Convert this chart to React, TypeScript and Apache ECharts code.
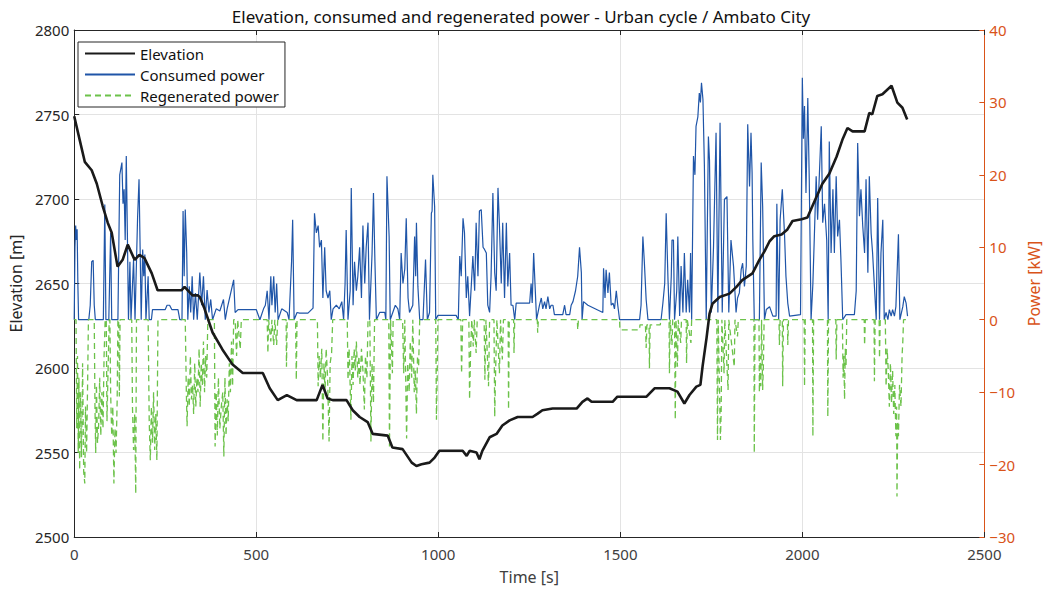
import React, { useEffect, useRef } from "react";
import * as echarts from "echarts";

const titleText = "Elevation, consumed and regenerated power - Urban cycle / Ambato City";

const elevation: [number, number][] = [
  [0, 2749], [15, 2735], [29, 2722], [48, 2717], [62, 2709], [78, 2696], [92, 2686], [103, 2680], [119, 2660], [133, 2664],
  [147, 2673], [166, 2664], [179, 2667], [193, 2665], [213, 2656], [229, 2646], [295, 2646], [303, 2648], [325, 2643], [339, 2643],
  [345, 2642], [358, 2635], [380, 2621], [407, 2611], [435, 2602], [463, 2597], [518, 2597], [537, 2588], [559, 2581], [584, 2584],
  [611, 2581], [647, 2581], [666, 2581], [682, 2590], [696, 2582], [710, 2581], [748, 2581], [765, 2575], [784, 2571], [806, 2568],
  [820, 2561], [861, 2560], [874, 2553], [902, 2552], [927, 2544], [940, 2542], [954, 2543], [976, 2544], [990, 2547], [1003, 2551],
  [1067, 2551], [1078, 2548], [1086, 2551], [1105, 2550], [1113, 2546], [1121, 2551], [1141, 2559], [1160, 2561], [1176, 2566], [1196, 2569],
  [1218, 2571], [1259, 2571], [1273, 2573], [1286, 2575], [1314, 2576], [1380, 2576], [1396, 2580], [1410, 2582], [1421, 2580], [1479, 2580],
  [1492, 2583], [1572, 2583], [1594, 2588], [1635, 2588], [1657, 2586], [1676, 2579], [1690, 2584], [1709, 2589], [1720, 2590], [1726, 2601],
  [1737, 2618], [1745, 2632], [1753, 2638], [1773, 2642], [1800, 2644], [1819, 2648], [1835, 2652], [1863, 2656], [1882, 2664], [1896, 2669],
  [1910, 2675], [1923, 2678], [1943, 2679], [1959, 2682], [1973, 2687], [1998, 2688], [2014, 2689], [2028, 2696], [2055, 2709], [2074, 2715],
  [2094, 2725], [2110, 2735], [2124, 2742], [2138, 2740], [2171, 2740], [2184, 2751], [2192, 2750], [2206, 2761], [2220, 2762], [2245, 2767],
  [2261, 2757], [2275, 2754], [2288, 2747],
];

const consumedPower: [number, number][] = [
  [0, 0], [2, 10], [4, 13], [6, 11], [8, 12.5], [10, 5], [12, 0], [40, 0], [44, 2], [48, 8], [52, 8.2], [55, 2], [58, 0], [80, 0],
  [84, 15.9], [87, 0], [95, 0], [100, 12], [103, 0], [120, 0], [125, 20], [131, 21.7], [134, 16], [137, 18], [140, 11], [143, 22.6],
  [146, 12], [149, 0], [153, 8], [156, 0], [163, 8.3], [167, 0], [174, 14], [178, 19.4], [181, 10], [184, 0], [188, 9.7], [191, 6],
  [194, 9], [197, 0], [203, 6], [206, 0], [212, 0], [215, 1.4], [250, 1.4], [255, 2], [262, 2], [268, 1.4], [285, 1.4], [290, 0],
  [296, 0], [299, 15], [302, 6], [305, 15.2], [309, 9.2], [312, 0], [316, 4.6], [320, 1], [324, 6], [328, 0], [333, 3.7], [338, 0],
  [345, 6.5], [350, 2], [355, 6], [360, 0], [365, 4.1], [370, 1], [375, 2.8], [380, 0], [390, 1.5], [400, 1.2], [410, 2.8], [415, 0],
  [420, 1.5], [438, 5.5], [442, 1], [450, 1.4], [500, 1.4], [510, 0], [520, 1.5], [525, 2], [530, 4], [535, 0], [540, 6], [543, 2],
  [548, 6], [552, 1], [556, 5], [560, 0], [570, 1.5], [585, 1], [590, 0], [597, 8], [600, 13.8], [604, 0], [612, 1],
  [619, 0.9], [642, 0.9], [656, 1.6], [660, 14.7], [665, 12], [670, 13], [674, 10], [679, 11], [683, 3], [688, 10], [692, 4], [697, 3],
  [702, 4], [706, 0], [711, 1.5], [720, 2], [728, 1.5], [735, 2.5], [740, 0], [744, 5], [747, 12.4], [752, 0], [758, 4], [761, 18.2],
  [766, 2], [770, 8], [775, 4], [779, 6], [784, 10], [789, 3], [793, 13], [798, 5], [802, 10], [807, 13.4], [811, 0], [818, 9],
  [822, 17.5], [826, 8], [830, 0], [839, 1], [853, 1], [856, 0], [859, 19.8], [865, 11.5], [868, 0], [875, 1], [882, 2], [889, 1.5],
  [894, 0], [898, 9.2], [903, 5], [908, 7], [912, 14], [917, 3], [921, 1], [930, 2], [935, 11.5], [938, 6], [940, 13.4], [944, 4.6],
  [949, 0], [958, 0], [965, 8.3], [970, 0], [976, 1], [981, 14.7], [983, 15], [985, 20], [990, 15.6], [993, 0], [999, 0.6], [1049, 0.6],
  [1055, 0], [1059, 8.8], [1063, 6], [1068, 14], [1072, 12], [1077, 3], [1081, 6], [1086, 0.5], [1091, 5], [1095, 8.8], [1100, 4],
  [1104, 13.4], [1109, 6], [1113, 15], [1118, 15.2], [1123, 10], [1127, 9.7], [1132, 9.2], [1136, 2], [1141, 1], [1145, 6], [1150, 17.5],
  [1155, 6.5], [1159, 4], [1164, 18.2], [1168, 13], [1173, 5], [1177, 13.4], [1182, 3], [1187, 13.4], [1191, 4.6], [1196, 9.2], [1200, 2],
  [1205, 2], [1210, 0], [1214, 2.3], [1251, 2.3], [1255, 5], [1258, 2.3], [1262, 9.2], [1266, 4.6], [1270, 0],
  [1278, 2], [1283, 3], [1287, 1.5], [1292, 2.5], [1296, 1.5], [1301, 3.2], [1306, 1.5], [1310, 2], [1315, 2], [1319, 0.7], [1342, 0.7],
  [1347, 2], [1351, 0.7], [1361, 0.7], [1365, 2], [1370, 2.5], [1377, 4], [1383, 6], [1388, 10], [1393, 6.5], [1395, 0], [1399, 2.5],
  [1411, 2], [1452, 1], [1454, 7.1], [1458, 3], [1461, 6.9], [1466, 3.7], [1470, 6.5], [1475, 2], [1480, 2.3], [1484, 1.5], [1489, 4],
  [1493, 2], [1498, 0], [1553, 0], [1557, 2], [1562, 11.5], [1566, 8], [1571, 2.8], [1576, 0], [1612, 0], [1617, 2.3], [1622, 5],
  [1626, 14.7], [1631, 5.5], [1635, 0], [1640, 6], [1642, 11], [1646, 11], [1649, 0], [1655, 4], [1658, 11.5], [1663, 0.5], [1667, 7.4],
  [1672, 1], [1676, 9.2], [1681, 1], [1685, 5.5], [1690, 1], [1693, 9.2], [1696, 0], [1701, 22.6], [1705, 20], [1708, 26.7], [1713, 28],
  [1717, 31.3], [1720, 30], [1723, 32.7], [1727, 30.4], [1731, 21.2], [1736, 0], [1742, 25.3], [1745, 22], [1750, 1], [1756, 10],
  [1763, 25.8], [1768, 1], [1774, 27.2], [1780, 1], [1786, 16.6], [1793, 17], [1798, 1], [1804, 11], [1811, 7.4], [1818, 1], [1822, 3],
  [1827, 3.7], [1832, 6.9], [1836, 7.8], [1841, 4.6], [1846, 7.4], [1850, 27], [1855, 18.4], [1859, 25.8], [1862, 20.3], [1864, 11],
  [1868, 0], [1882, 0], [1887, 21.7], [1891, 15.7], [1896, 0], [1901, 1.4], [1910, 1.8], [1919, 0.5], [1928, 0.5], [1930, 16], [1935, 0],
  [1939, 13.8], [1945, 18], [1951, 11.9], [1955, 6], [1960, 2.3], [1965, 0.5], [1995, 0.7], [2000, 33.4], [2003, 25], [2006, 29.5],
  [2010, 17.5], [2015, 30.6], [2019, 19.4], [2024, 0], [2029, 5], [2033, 11.5], [2038, 19.8], [2042, 13.8], [2047, 20.3], [2052, 26.7],
  [2056, 13.4], [2061, 16], [2067, 11], [2071, 0], [2074, 24.6], [2079, 9.2], [2084, 18], [2088, 9.2], [2093, 19.8], [2097, 11.5],
  [2102, 13.8], [2106, 8.3], [2111, 0], [2120, 0.7], [2143, 0.7], [2148, 4], [2152, 24.4], [2157, 14.3], [2161, 18], [2166, 12.9],
  [2171, 9.2], [2175, 19.4], [2180, 6.5], [2184, 19.8], [2189, 11.9], [2193, 9.2], [2198, 4.6], [2203, 0], [2207, 16.8], [2212, 0],
  [2216, 9.2], [2221, 13.8], [2225, 0], [2230, 1], [2235, 0], [2239, 1.4], [2244, 0.5], [2248, 1.4], [2253, 0.5], [2257, 1.8],
  [2264, 11.8], [2268, 0], [2276, 1.8], [2280, 3.2], [2285, 2.3], [2289, 0.5],
];

const regeneratedPower: [number, number][] = [
  [0, 0], [5, 0], [7, -15], [9, -5], [11, -18.4], [13, -8], [15, -20.7], [17, -10], [20, -19], [23, -6], [26, -21], [29, -22.6],
  [31, -12], [34, -18.4], [37, -8], [39, 0], [55, 0], [57, -12], [59, -18.4], [61, -9], [64, -17], [67, -14.7], [70, -8], [73, -16],
  [76, -10], [79, -15], [82, -5], [85, 0], [88, 0], [90, -14], [93, -7], [96, 0], [98, 0], [100, -10], [103, -16], [106, -12],
  [109, -22.6], [112, -15], [115, -18.4], [118, -11], [120, 0], [122, 0], [124, -10.6], [126, 0], [158, 0], [160, -12], [163, -18],
  [166, -13], [169, -24], [171, 0], [203, 0], [206, -14], [209, -19.4], [212, -12], [215, -17], [218, -10], [221, -18], [224, -13],
  [227, -19.4], [230, 0], [305, 0], [308, -10], [310, -14.7], [313, -8], [316, -12], [319, -5], [322, -11], [325, -9], [328, -13],
  [331, -6], [334, -12], [337, -8], [340, -10], [343, -4], [346, -12], [349, -6], [352, -9], [355, -3], [358, -10], [361, -5],
  [364, -8], [367, 0], [385, 0], [387, -17.5], [390, -10], [393, -16], [396, -8], [400, -15], [404, -12], [408, -10], [411, -18.9],
  [414, -8], [417, -16], [420, -11], [423, -14], [426, -6], [429, -10], [432, -3], [435, -9.2], [438, 0], [442, 0], [446, -5],
  [449, 0], [456, -4.1], [459, 0], [530, 0], [532, -4.6], [534, 0], [540, -3], [543, 0], [548, -3.5], [551, 0], [556, -3.5],
  [559, 0], [582, 0], [583, -6.5], [585, 0], [608, 0], [610, -8.3], [612, 0],
  [668, 0], [670, -9.2], [673, -5], [676, -8], [680, -4], [683, -16.8], [686, -6], [689, -10], [692, -4], [696, -8], [700, -16.8],
  [703, -6], [707, -4.6], [710, 0], [750, 0], [752, -8.3], [755, -4], [757, -7], [760, -13.8], [763, -5], [766, -9], [769, -4],
  [772, -7], [775, -3], [779, -8], [782, -5], [785, -9], [789, -4], [793, -7], [797, -12.4], [800, -5], [804, -8], [807, 0],
  [812, 0], [815, -16.8], [818, -6], [822, -11.5], [825, 0], [864, 0], [866, -17.5], [869, 0], [874, -7.4], [876, 0], [902, 0],
  [905, -7.4], [908, 0], [913, -16.4], [916, -6], [920, -10], [923, -3], [927, -8], [930, 0], [934, -10], [937, -7], [940, -13],
  [943, -5], [946, -6.5], [949, 0], [993, 0], [995, -13.8], [997, -8], [999, 0], [1062, 0], [1064, -7.4], [1067, 0], [1084, 0],
  [1086, -11], [1089, -4], [1092, 0], [1096, -3.7], [1099, 0], [1104, -4.6], [1107, 0], [1126, 0], [1128, -8.3], [1131, 0],
  [1138, -9.2], [1141, 0], [1153, 0], [1155, -13.4], [1158, -6], [1161, 0], [1168, -7.4], [1171, 0], [1176, -5.5], [1179, 0],
  [1192, 0], [1193, -12.4], [1195, 0], [1207, 0], [1208, -4.6], [1210, 0], [1272, 0], [1273, -1.8], [1275, 0], [1382, 0],
  [1383, -1.4], [1385, 0], [1498, 0], [1499, -1.4], [1553, -1.4], [1554, -0.7], [1569, -0.7], [1571, -3.9], [1573, -0.7],
  [1579, -0.7], [1580, -6.7], [1582, -0.7], [1610, -0.7], [1611, 0], [1634, 0], [1635, -7.4], [1637, 0], [1642, -3.5], [1644, 0],
  [1649, 0], [1651, -13.8], [1653, 0], [1657, -6.5], [1659, 0], [1666, -3.2], [1668, 0], [1681, 0], [1682, -6], [1684, 0],
  [1694, -3.2], [1696, 0], [1765, 0], [1767, -16.6], [1769, 0], [1775, -16.6], [1777, -12.9], [1779, 0], [1785, -7.4], [1787, 0],
  [1796, -9.7], [1798, 0], [1813, -6.5], [1815, 0], [1822, -2.3], [1824, 0], [1867, 0], [1868, -18.4], [1870, 0], [1881, 0],
  [1882, -10], [1884, -5], [1886, -9.2], [1888, 0], [1891, -9.7], [1893, -6.5], [1895, 0], [1936, 0], [1937, -3.5], [1939, 0],
  [1945, 0], [1946, -9.2], [1948, 0], [1959, 0], [1960, -3.5], [1962, 0], [2005, 0], [2006, -9.2], [2008, 0], [2028, 0],
  [2029, -16.1], [2031, 0], [2069, 0], [2070, -13.4], [2072, 0], [2092, 0], [2093, -5.5], [2095, 0], [2110, 0], [2112, -8],
  [2114, -5], [2116, -11], [2118, -4], [2120, -6.5], [2122, 0], [2170, 0], [2171, -3.5], [2173, 0], [2197, 0], [2198, -8.5],
  [2200, 0], [2211, 0], [2212, -5.3], [2214, 0], [2228, 0], [2230, -9.2], [2233, -4], [2236, -7], [2239, -12], [2242, -6],
  [2245, -11.5], [2248, -7], [2251, -13], [2254, -9], [2257, -16.1], [2259, -12], [2260, -24.4], [2262, -14], [2264, -16.1],
  [2267, -9], [2271, -12], [2274, -5], [2276, -3], [2278, 0], [2289, 0],
];

const FONT = "Noto Sans";
const AXIS_COLOR = "#262626";
const ORANGE = "#D95319";
const GRID_COLOR = "#e3e3e3";

const plain = (v: number) => String(v);
const fmtMinus = (v: number) => String(v).replace("-", "\u2212");

export default function App() {
  const ref = useRef<HTMLDivElement>(null);
  useEffect(() => {
    document.body.style.margin = "0";
    const chart = echarts.init(ref.current!, null, { renderer: "svg" });
    const option: any = {
      animation: false,
      backgroundColor: "#ffffff",
      textStyle: { fontFamily: FONT },
      grid: { left: 74, right: 65, top: 30, bottom: 59, show: false },
      graphic: [
        {
          type: "text",
          x: 521,
          y: 16,
          style: {
            text: titleText,
            fontFamily: FONT,
            fontSize: 17,
            fill: "#111111",
            textAlign: "center",
            textVerticalAlign: "middle",
          },
        },
      ],
      legend: {
        orient: "vertical",
        left: 78,
        top: 42,
        itemWidth: 50,
        itemHeight: 14,
        itemGap: 6,
        padding: [4, 6, 4, 6],
        borderColor: AXIS_COLOR,
        borderWidth: 1,
        borderRadius: 0,
        backgroundColor: "#ffffff",
        selectedMode: false,
        itemStyle: { opacity: 0, borderWidth: 0 },
        textStyle: { fontFamily: FONT, fontSize: 15, color: "#111111" },
        data: ["Elevation", "Consumed power", "Regenerated power"],
      },
      xAxis: [
        {
          type: "value",
          min: 0,
          max: 2500,
          interval: 500,
          name: "Time [s]",
          nameLocation: "middle",
          nameGap: 32,
          nameTextStyle: { fontFamily: FONT, fontSize: 16, color: "#404040" },
          axisLine: { show: true, onZero: false, lineStyle: { color: AXIS_COLOR, width: 1 } },
          axisTick: { show: true, inside: true, length: 5, lineStyle: { color: AXIS_COLOR } },
          axisLabel: { fontFamily: FONT, fontSize: 15, color: "#404040", margin: 9, formatter: plain },
          splitLine: { show: true, lineStyle: { color: GRID_COLOR, width: 1 } },
        },
        {
          type: "value",
          position: "top",
          min: 0,
          max: 2500,
          interval: 500,
          axisLine: { show: true, onZero: false, lineStyle: { color: AXIS_COLOR, width: 1 } },
          axisTick: { show: true, inside: true, length: 5, lineStyle: { color: AXIS_COLOR } },
          axisLabel: { show: false },
          splitLine: { show: false },
        },
      ],
      yAxis: [
        {
          type: "value",
          min: 2500,
          max: 2800,
          interval: 50,
          name: "Elevation [m]",
          nameLocation: "middle",
          nameRotate: 90,
          nameGap: 46,
          nameTextStyle: { fontFamily: FONT, fontSize: 16, color: "#262626" },
          axisLine: { show: true, onZero: false, lineStyle: { color: AXIS_COLOR, width: 1 } },
          axisTick: { show: true, inside: true, length: 5, lineStyle: { color: AXIS_COLOR } },
          axisLabel: { fontFamily: FONT, fontSize: 15, color: "#262626", margin: 5, formatter: plain },
          splitLine: { show: true, lineStyle: { color: GRID_COLOR, width: 1 } },
        },
        {
          type: "value",
          position: "right",
          min: -30,
          max: 40,
          interval: 10,
          name: "Power [kW]",
          nameLocation: "middle",
          nameRotate: 90,
          nameGap: 36,
          nameTextStyle: { fontFamily: FONT, fontSize: 16, color: ORANGE },
          axisLine: { show: true, onZero: false, lineStyle: { color: ORANGE, width: 1 } },
          axisTick: { show: true, inside: true, length: 5, lineStyle: { color: ORANGE } },
          axisLabel: { fontFamily: FONT, fontSize: 15, color: ORANGE, margin: 5, formatter: fmtMinus },
          splitLine: { show: false },
        },
      ],
      series: [
        {
          name: "Elevation",
          type: "line",
          xAxisIndex: 0,
          yAxisIndex: 0,
          data: elevation,
          symbol: "none",
          z: 5,
          lineStyle: { color: "#1a1a1a", width: 2.6 },
          itemStyle: { color: "#1a1a1a" },
        },
        {
          name: "Consumed power",
          type: "line",
          xAxisIndex: 0,
          yAxisIndex: 1,
          data: consumedPower,
          symbol: "none",
          z: 3,
          lineStyle: { color: "#1f55a8", width: 1.2 },
          itemStyle: { color: "#1f55a8" },
        },
        {
          name: "Regenerated power",
          type: "line",
          xAxisIndex: 0,
          yAxisIndex: 1,
          data: regeneratedPower,
          symbol: "none",
          z: 4,
          lineStyle: { color: "#6cc24a", width: 1.3, type: [6, 4] },
          itemStyle: { color: "#6cc24a" },
        },
      ],
    };
    chart.setOption(option);
    return () => chart.dispose();
  }, []);
  return <div ref={ref} style={{ width: 1050, height: 596 }} />;
}
